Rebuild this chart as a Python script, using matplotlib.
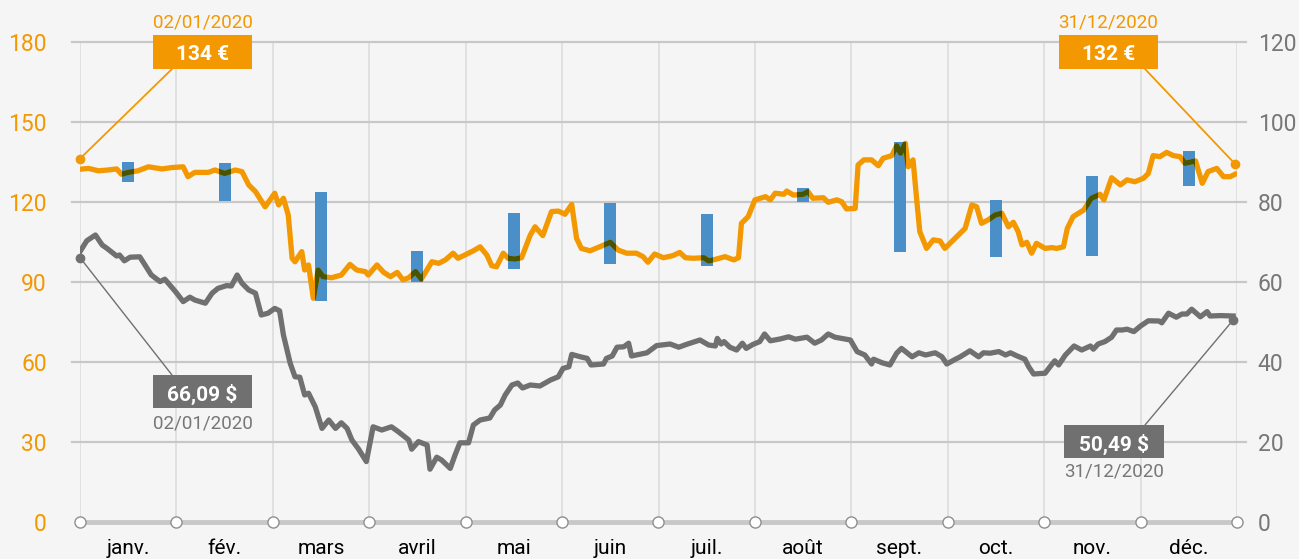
import numpy as np
import matplotlib
matplotlib.use('Agg')
import matplotlib.pyplot as plt
from matplotlib.patches import Rectangle
from matplotlib.transforms import offset_copy

W, H = 1299, 559

months = ['janv.', 'fév.', 'mars', 'avril', 'mai', 'juin',
          'juil.', 'août', 'sept.', 'oct.', 'nov.', 'déc.']

# cours en euros (axe gauche) - position = mois écoulés depuis le 1er janvier
eur_t = [0.00, 0.09, 0.19, 0.29, 0.38, 0.43, 0.50, 0.60, 0.71, 0.85,
         0.95, 1.07, 1.12, 1.19, 1.33, 1.40, 1.50, 1.61, 1.68, 1.75,
         1.82, 1.92, 2.02, 2.06, 2.11, 2.16, 2.20, 2.23, 2.30, 2.33,
         2.37, 2.42, 2.47, 2.52, 2.61, 2.71, 2.80, 2.87, 2.96, 2.99,
         3.08, 3.15, 3.22, 3.29, 3.35, 3.41, 3.48, 3.54, 3.65, 3.72,
         3.79, 3.87, 3.92, 3.99, 4.08,
         4.15, 4.22, 4.27, 4.32, 4.39, 4.44, 4.51, 4.58, 4.67, 4.72,
         4.80, 4.89, 4.96, 5.03, 5.10, 5.15, 5.20, 5.29, 5.39, 5.50,
         5.58, 5.67, 5.77, 5.84, 5.89, 5.96, 6.05, 6.15, 6.22, 6.28,
         6.36, 6.47, 6.52, 6.60, 6.69, 6.78, 6.83, 6.86, 6.93, 7.00,
         7.11, 7.16, 7.21, 7.30, 7.33, 7.40, 7.50, 7.55, 7.60, 7.71,
         7.76, 7.85, 7.90, 7.95, 8.04, 8.07, 8.13,
         8.21, 8.28, 8.33, 8.42, 8.47, 8.51, 8.56, 8.59, 8.64, 8.68,
         8.71, 8.78, 8.85, 8.92, 8.97, 9.04, 9.11, 9.18, 9.25, 9.30,
         9.35, 9.42, 9.49, 9.56, 9.63, 9.68, 9.73, 9.77, 9.82, 9.87,
         9.92, 10.01, 10.08, 10.13, 10.20, 10.24, 10.30, 10.41, 10.49, 10.58,
         10.62, 10.70, 10.79, 10.86, 10.94, 11.03, 11.08, 11.13, 11.20, 11.27,
         11.34, 11.41, 11.46, 11.57, 11.64, 11.70, 11.79, 11.86, 11.93, 11.98]
eur_v = [132.3, 132.6, 131.7, 132.0, 132.4, 130.4, 131.1, 131.7, 133.2, 132.4,
         132.9, 133.2, 129.5, 131.1, 131.1, 132.0, 130.7, 132.0, 131.4, 126.4,
         123.9, 118.2, 123.3, 118.9, 121.4, 115.1, 98.9, 97.6, 101.4, 94.5,
         96.4, 83.9, 94.5, 92.0, 91.6, 92.6, 96.6, 94.5, 93.9, 92.6,
         96.4, 93.6, 92.0, 93.6, 90.8, 91.6, 93.9, 91.1, 97.6, 97.0,
         98.3, 100.8, 98.9, 100.1, 101.7,
         103.2, 100.1, 96.1, 95.7, 100.8, 98.9, 98.6, 99.1, 107.6, 110.7,
         107.4, 116.4, 116.6, 115.4, 119.1, 106.4, 102.6, 101.7, 103.2, 104.9,
         102.0, 100.8, 100.8, 99.5, 97.4, 100.5, 99.1, 99.9, 101.1, 99.1,
         98.9, 99.1, 97.9, 98.6, 99.5, 98.3, 99.1, 112.0, 114.5, 120.8,
         122.0, 120.8, 123.3, 122.9, 124.1, 122.6, 122.9, 123.9, 121.4, 121.6,
         119.9, 120.8, 120.1, 117.4, 117.6, 133.9, 135.8,
         135.8, 133.6, 136.4, 137.4, 141.1, 138.3, 142.0, 133.2, 135.8, 120.1,
         108.9, 102.6, 105.8, 105.4, 102.6, 105.1, 107.6, 110.1, 118.9, 118.2,
         112.0, 113.3, 115.1, 115.8, 110.7, 112.4, 108.9, 103.9, 104.9, 100.8,
         104.5, 102.6, 102.9, 102.6, 103.2, 110.1, 114.5, 117.0, 121.4, 122.9,
         120.8, 129.1, 126.4, 128.3, 127.6, 128.9, 130.7, 137.4, 137.0, 138.6,
         137.4, 137.0, 134.5, 135.4, 127.0, 131.4, 132.6, 129.5, 129.5, 130.4]

# cours en dollars (axe droit)
usd_t = [0.00, 0.07, 0.16, 0.23, 0.28, 0.38, 0.41, 0.46, 0.52, 0.62,
         0.74, 0.83, 0.88, 0.99, 1.07, 1.14, 1.19, 1.30, 1.37, 1.43,
         1.52, 1.57, 1.63, 1.68, 1.75, 1.82, 1.88, 1.95, 2.02, 2.07,
         2.11, 2.18, 2.23, 2.28, 2.33, 2.37, 2.44, 2.51, 2.58, 2.65,
         2.71, 2.77, 2.82, 2.89, 2.97, 3.04, 3.13, 3.18, 3.23, 3.30,
         3.41, 3.44, 3.51, 3.60, 3.63, 3.70, 3.75, 3.84, 3.89, 3.94,
         4.03, 4.08, 4.15, 4.25, 4.30, 4.36, 4.41, 4.48, 4.54, 4.59,
         4.67, 4.77, 4.88, 4.96, 5.01, 5.07, 5.10, 5.19, 5.26, 5.30,
         5.43, 5.46, 5.52, 5.57, 5.64, 5.69, 5.72, 5.77, 5.88, 5.98,
         6.12, 6.21, 6.29, 6.43, 6.52, 6.59, 6.61, 6.65, 6.68, 6.74,
         6.81, 6.87, 6.91, 6.98, 7.05, 7.10, 7.16, 7.26, 7.35, 7.42,
         7.54, 7.62, 7.69, 7.76, 7.83, 7.99, 8.06, 8.14, 8.21, 8.23,
         8.32, 8.40, 8.47, 8.52, 8.63, 8.70, 8.77, 8.87, 8.94, 8.99,
         9.08, 9.13, 9.23, 9.32, 9.37, 9.44, 9.53, 9.60, 9.65, 9.72,
         9.80, 9.84, 9.89, 10.01, 10.06, 10.11, 10.15, 10.22, 10.31, 10.39,
         10.48, 10.51, 10.56, 10.63, 10.70, 10.75, 10.81, 10.86, 10.93, 11.00,
         11.08, 11.19, 11.22, 11.29, 11.37, 11.43, 11.48, 11.53, 11.62, 11.69,
         11.72, 11.83, 11.96]
usd_v = [67.6, 70.3, 71.75, 69.25, 68.4, 66.5, 66.75, 65.3, 66.2, 66.3,
         61.75, 60.1, 60.7, 57.6, 55.1, 56.2, 55.5, 54.7, 57.2, 58.4,
         59.1, 59.0, 61.75, 59.7, 58.0, 57.2, 51.75, 52.2, 53.4, 52.8,
         46.75, 39.7, 36.3, 36.2, 31.75, 32.2, 28.8, 23.4, 25.5, 23.4,
         24.8, 23.4, 20.5, 18.2, 15.1, 23.8, 23.0, 23.4, 23.8, 22.6,
         20.5, 18.2, 20.1, 19.25, 13.2, 16.2, 15.5, 13.4, 16.75, 19.8,
         19.8, 24.25, 25.5, 26.0, 28.0, 29.25, 31.75, 34.25, 34.75, 33.5,
         34.25, 34.0, 35.5, 36.3, 38.4, 38.8, 41.9, 41.3, 40.9, 39.25,
         39.5, 40.9, 41.5, 43.7, 43.8, 44.7, 41.5, 41.75, 42.3, 44.1,
         44.5, 43.7, 44.4, 45.5, 44.25, 44.0, 45.9, 44.5, 45.1, 43.7,
         43.0, 44.7, 43.4, 44.4, 45.1, 47.0, 45.3, 45.75, 46.3, 45.7,
         46.2, 44.7, 45.5, 47.0, 46.2, 45.5, 42.6, 41.75, 39.5, 40.7,
         39.8, 39.25, 42.2, 43.4, 41.3, 42.3, 41.75, 42.3, 41.3, 39.5,
         40.7, 41.3, 42.8, 41.3, 42.3, 42.2, 42.6, 41.75, 42.3, 41.5,
         40.7, 38.8, 37.0, 37.2, 38.8, 40.3, 39.25, 41.75, 44.0, 43.0,
         44.0, 43.2, 44.5, 45.1, 46.2, 48.0, 48.0, 48.2, 47.6, 49.0,
         50.3, 50.25, 49.8, 52.2, 51.2, 52.0, 52.0, 53.2, 51.3, 52.6,
         51.5, 51.6, 51.5]

# fourchettes mensuelles (axe gauche)
bar_lo = [127.6, 120.5, 83.0, 89.9, 94.9, 96.75, 96.0, 120.0, 101.4, 99.5, 99.9, 126.1]
bar_hi = [135.1, 134.7, 123.9, 101.6, 116.0, 119.7, 115.5, 125.4, 142.6, 120.75, 129.75, 139.2]

eur_first, eur_last = 134, 132
usd_first, usd_last = 66.09, 50.49
date_first, date_last = '02/01/2020', '31/12/2020'

ORANGE = '#f39800'
BLUE = '#4a8fc8'
OLIVE = '#475500'
GREY = '#707070'
BG = '#f5f5f5'

plt.rcParams['font.family'] = ['Roboto', 'DejaVu Sans']

fig = plt.figure(figsize=(W / 100, H / 100), dpi=100, facecolor=BG)
ax = fig.add_axes([80 / W, 37 / H, (1237 - 80) / W, 480 / H])
ax.set_facecolor(BG)
ax2 = ax.twinx()

ax.set_xlim(0, 12)
ax.set_ylim(0, 180)
ax2.set_ylim(0, 120)

for a in (ax, ax2):
    for s in a.spines.values():
        s.set_visible(False)

# grilles
for m in range(13):
    ax.axvline(m, color='#dedede', lw=1.3, zorder=0.5)
for v in range(30, 181, 30):
    ax.axhline(v, xmin=-8 / 1157, xmax=1 + 9 / 1157, color='#c8c8c8', lw=1.6,
               clip_on=False, zorder=0.6)

# barres flottantes
lo = np.array(bar_lo)
hi = np.array(bar_hi)
bars = ax.bar(np.arange(12) + 0.5, hi - lo, bottom=lo, width=0.125,
              color=BLUE, zorder=2)

ax.plot(eur_t, eur_v, color=ORANGE, lw=3.8, solid_joinstyle='round', zorder=3)
# partie de la courbe qui recouvre une barre (effet "produit")
for p in bars.patches:
    ln, = ax.plot(eur_t, eur_v, color=OLIVE, lw=3.8, solid_joinstyle='round', zorder=4)
    ln.set_clip_path(p)

ax2.plot(usd_t, usd_v, color=GREY, lw=3.8, solid_joinstyle='round', zorder=3)

# axe du bas
ax2.plot([0, 12], [0, 0], color='#c8c8c8', lw=3.5, clip_on=False, zorder=5)
ax2.plot(np.arange(13), np.zeros(13), 'o', ms=8, mfc='white', mec='#8f8f8f',
         mew=1, clip_on=False, zorder=6)

# ticks
ax.set_yticks(range(0, 181, 30))
ax2.set_yticks(range(0, 121, 20))
ax.set_xticks(np.arange(12) + 0.5)
ax.set_xticklabels(months)
ax.tick_params(axis='y', length=0, pad=24, labelsize=16.5, labelcolor=ORANGE)
ax2.tick_params(axis='y', length=0, pad=15, labelsize=16.5, labelcolor='#777777')
ax.tick_params(axis='x', length=0, pad=12, labelsize=15, labelcolor='black')


def fig_xy(px, py):
    return px / W, 1 - py / H


def callout(axis, t, v, box, text, date, date_y, anchor, fc, date_c, lw, lift):
    x0, y0, x1, y1 = box
    tr = offset_copy(axis.transData, fig=fig, x=0, y=lift, units='dots')
    axis.plot([t], [v], 'o', ms=6, color=fc, clip_on=False, zorder=7, transform=tr)
    axis.annotate('', xy=(t, v), xycoords=tr,
                  xytext=fig_xy(*anchor), textcoords='figure fraction',
                  arrowprops=dict(arrowstyle='-', color=fc, lw=lw,
                                  shrinkA=0, shrinkB=0), zorder=7)
    fig.add_artist(Rectangle(fig_xy(x0, y1), (x1 - x0) / W, (y1 - y0) / H,
                             transform=fig.transFigure, fc=fc, ec='none', zorder=8))
    fig.text(*fig_xy((x0 + x1) / 2, (y0 + y1) / 2 + 2.5), text, ha='center', va='center',
             color='white', fontsize=15, fontweight='bold', zorder=9)
    fig.text(*fig_xy((x0 + x1) / 2, date_y), date, ha='center', va='center',
             color=date_c, fontsize=13.5, zorder=9)


callout(ax, eur_t[0], eur_first, (153, 35, 252, 69), f'{eur_first} €',
        date_first, 22.5, (172, 69), ORANGE, ORANGE, 1.3, 6)
callout(ax, eur_t[-1], eur_last, (1059, 35, 1158, 69), f'{eur_last} €',
        date_last, 22.5, (1145, 69), ORANGE, ORANGE, 1.3, 6)
callout(ax2, usd_t[0], usd_first, (153, 375, 252, 408),
        f'{usd_first:.2f}'.replace('.', ',') + ' $',
        date_first, 423, (172, 375), GREY, '#777777', 1.0, 0)
callout(ax2, usd_t[-1], usd_last, (1064, 425, 1164, 458),
        f'{usd_last:.2f}'.replace('.', ',') + ' $',
        date_last, 472, (1145, 425), GREY, '#777777', 1.0, 0)

fig.savefig('out.png', dpi=100, facecolor=BG)
